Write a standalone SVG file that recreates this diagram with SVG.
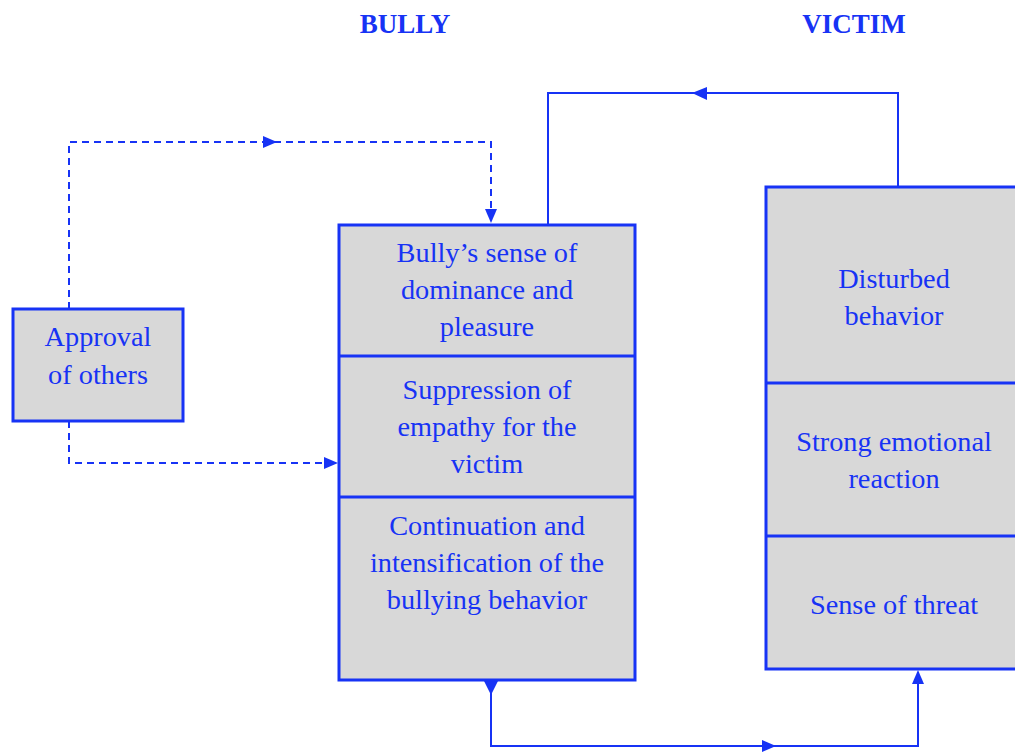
<svg xmlns="http://www.w3.org/2000/svg" width="1015" height="752" viewBox="0 0 1015 752">
<style>
.box{fill:#d8d8d8;stroke:#1733f5;stroke-width:3}
.div{stroke:#1733f5;stroke-width:3}
.t{font-family:"Liberation Serif","DejaVu Serif",serif;font-size:28.3px;fill:#1733f5;text-anchor:middle}
.h{font-family:"Liberation Serif","DejaVu Serif",serif;font-size:27px;font-weight:bold;fill:#1733f5;text-anchor:middle}
.c{fill:none;stroke:#1733f5;stroke-width:2}
.d{fill:none;stroke:#1733f5;stroke-width:2;stroke-dasharray:7,5}
.a{fill:#1733f5}
</style>
<text class="h" x="405" y="33">BULLY</text>
<text class="h" x="854" y="33">VICTIM</text>
<g id="connectors">
<path class="d" d="M69,309 V142 H491 V212"/>
<polygon class="a" points="263,136 263,148 277,142"/>
<polygon class="a" points="485,209 497,209 491,223"/>
<path class="d" d="M69,421 V463 H326"/>
<polygon class="a" points="324,457 324,469 338,463"/>
<path class="c" d="M548,225 V93 H898 V187"/>
<polygon class="a" points="707,87 707,100 692,93"/>
<path class="c" d="M491,632 V746 H918 V683"/>
<polygon class="a" points="484,681 498,681 491,695"/>
<polygon class="a" points="762,740 762,752 776,746"/>
<polygon class="a" points="912,684 924,684 918,670"/>
</g>
<g id="approval">
<rect class="box" x="13" y="309" width="170" height="112"/>
<text class="t" x="98" y="346">Approval</text>
<text class="t" x="98" y="384">of others</text>
</g>
<g id="bully">
<rect class="box" x="339" y="225" width="296" height="455"/>
<line class="div" x1="339" y1="356" x2="635" y2="356"/>
<line class="div" x1="339" y1="497" x2="635" y2="497"/>
<text class="t" x="487" y="262">Bully’s sense of</text>
<text class="t" x="487" y="299">dominance and</text>
<text class="t" x="487" y="336">pleasure</text>
<text class="t" x="487" y="399">Suppression of</text>
<text class="t" x="487" y="436">empathy for the</text>
<text class="t" x="487" y="473">victim</text>
<text class="t" x="487" y="535">Continuation and</text>
<text class="t" x="487" y="572">intensification of the</text>
<text class="t" x="487" y="609">bullying behavior</text>
</g>
<g id="victim">
<rect class="box" x="766" y="187" width="260" height="482"/>
<line class="div" x1="766" y1="383" x2="1015" y2="383"/>
<line class="div" x1="766" y1="536" x2="1015" y2="536"/>
<text class="t" x="894" y="288">Disturbed</text>
<text class="t" x="894" y="325">behavior</text>
<text class="t" x="894" y="451">Strong emotional</text>
<text class="t" x="894" y="488">reaction</text>
<text class="t" x="894" y="614">Sense of threat</text>
</g>
</svg>
